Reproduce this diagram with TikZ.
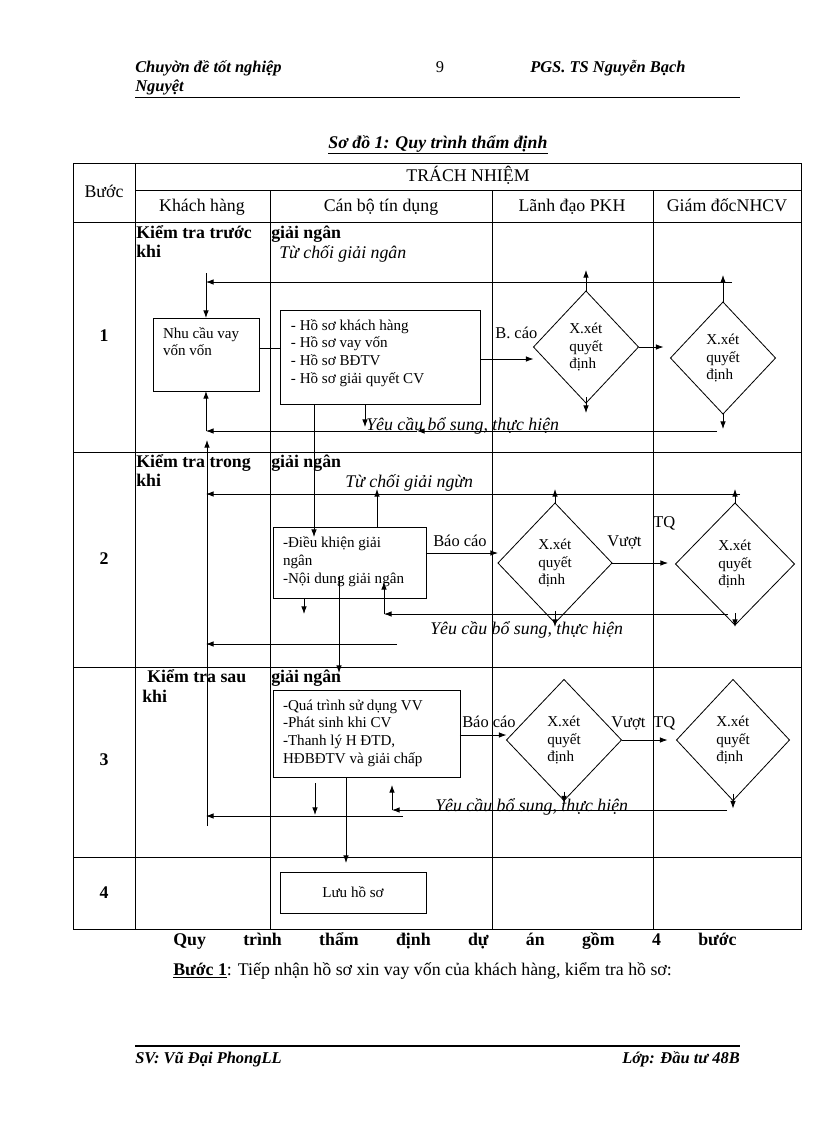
\documentclass[tikz,border=0pt]{standalone}
\usepackage{fontspec}
\setmainfont{Liberation Serif}
\usetikzlibrary{shapes.geometric,arrows.meta}

\newcommand\cellfont{\fontsize{13}{15}\selectfont}
\newcommand\boxfont{\fontsize{11}{13}\selectfont}
\newcommand\tagfont{\fontsize{12}{14}\selectfont}
\newcommand\pagefont{\fontsize{12}{14}\selectfont}
\newcommand\boxtext[3]{\parbox[c][#2][t]{#1}{#3}}

\tikzset{
  tableline/.style={line width=0.6pt},
  docbox/.style={draw,line width=0.6pt,rectangle,anchor=north west,inner xsep=7.3pt,inner ysep=5.5pt,outer sep=0pt,font=\boxfont},
  choice/.style={draw,line width=0.6pt,diamond,inner sep=0pt,outer sep=0pt,align=left,font=\boxfont},
  flow/.style={line width=0.6pt,-{Latex[length=5.5pt,width=4pt]}},
  link/.style={line width=0.6pt},
  head/.style={inner sep=0pt,anchor=base,font=\cellfont},
  stage/.style={inner sep=0pt,anchor=base west,font=\cellfont\bfseries},
  tag/.style={inner sep=0pt,anchor=base west,font=\tagfont},
  note/.style={inner sep=0pt,anchor=base west,font=\cellfont\itshape},
}

\begin{document}
\begin{tikzpicture}[x=0.7295pt,y=-0.7295pt]
  \useasboundingbox (0,0) rectangle (816,1123);

  % Page header
  \node[inner sep=0pt,anchor=base west,font=\pagefont\bfseries\itshape] (hdrleft) at (135,72) {Chuyờn đề tốt nghiệp};
  \node[inner sep=0pt,anchor=base west,font=\pagefont\bfseries\itshape] (hdrname) at (135,91) {Nguyệt};
  \node[inner sep=0pt,anchor=base,font=\pagefont] (pageno) at (440,72) {9};
  \node[inner sep=0pt,anchor=base west,font=\pagefont\bfseries\itshape] (hdrright) at (530,72) {PGS. TS Nguyễn Bạch};
  \draw[line width=0.6pt] (135,97) -- (740,97);

  % Title
  \node[inner sep=0pt,anchor=base,font=\cellfont\bfseries\itshape] (title) at (438,148) {\underline{Sơ đồ 1: Quy trình thẩm định}};

  % Table
  \draw[tableline] (73,163) rectangle (801,929);
  \draw[tableline] (135,163) -- (135,929);
  \draw[tableline] (135,190) -- (801,190);
  \foreach \y in {222,452,667,857}
    \draw[tableline] (73,\y) -- (801,\y);
  \foreach \x in {270,492,653}
    \draw[tableline] (\x,190) -- (\x,929);

  \node[head] (buoc) at (104,197) {Bước};
  \node[head] (trach) at (468,181) {TRÁCH NHIỆM};
  \node[head] (khach) at (202,211) {Khách hàng};
  \node[head] (canbo) at (381,211) {Cán bộ tín dụng};
  \node[head] (lanhdao) at (572,211) {Lãnh đạo PKH};
  \node[head] (giamdoc) at (727,211) {Giám đốcNHCV};

  \node[head,font=\cellfont\bfseries] (num1) at (104,341) {1};
  \node[head,font=\cellfont\bfseries] (num2) at (104,564) {2};
  \node[head,font=\cellfont\bfseries] (num3) at (104,765) {3};
  \node[head,font=\cellfont\bfseries] (num4) at (104,898) {4};

  % Row 1
  \node[stage] (kt1) at (136,238) {Kiểm tra trước};
  \node[stage] (kt1b) at (136,257) {khi};
  \node[stage] (gn1) at (271,238) {giải ngân};
  \node[note] (deny1) at (279,258) {Từ chối giải ngân};

  \node[docbox] (need1) at (153,318) {\boxtext{62.7pt}{42.3pt}{\strut Nhu cầu vay\\ vốn vốn}};
  \node[docbox,inner xsep=8pt] (docs1) at (280,310) {\boxtext{129.9pt}{57.6pt}{\strut - Hồ sơ khách hàng\\ - Hồ sơ vay vốn\\ - Hồ sơ BĐTV\\ - Hồ sơ giải quyết CV}};
  \node[choice,minimum width=76.6pt,minimum height=81.7pt] (lead1) at (586,347) {X.xét\\ quyết\\ định};
  \node[choice,minimum width=76.6pt,minimum height=81.7pt] (dir1) at (723,358) {X.xét\\ quyết\\ định};

  \coordinate (rej1) at (732,282);
  \coordinate (top1) at (207,273);
  \coordinate (join1) at (270,348);
  \coordinate (rep1) at (480,359);
  \coordinate (req1) at (717,431);
  \coordinate (mid1) at (417,431);
  \coordinate (drop1) at (365,427);
  \coordinate (pass1) at (314,537);

  \draw[flow] (rej1) -- (rej1 -| need1.north);
  \draw[flow] (top1 -| need1.north) -- (need1.north);
  \draw[link] (join1 -| need1.east) -- (join1 -| docs1.west);
  \draw[flow] (rep1 -| docs1.east) -- (rep1 -| lead1.west);
  \node[tag] (bcao1) at (495,338) {B. cáo};
  \draw[flow] (lead1.north) -- ++(0,-21);
  \draw[flow] (dir1.north) -- ++(0,-27);
  \draw[flow] (lead1.east) -- ++(25,0);
  \draw[flow] (lead1.south) ++(0,-6) -- ++(0,16);
  \draw[flow] (dir1.south) -- ++(0,15);
  \draw[flow] (req1) -- (mid1);
  \draw[flow] (mid1) -- (mid1 -| need1.south);
  \draw[flow] (mid1 -| need1.south) -- (need1.south);
  \draw[flow] (drop1 |- docs1.south) -- (drop1);
  \draw[flow] (pass1 |- docs1.south) -- (pass1);
  \node[note] (more1) at (366,430) {Yêu cầu bổ sung, thực hiện};

  % Row 2
  \node[stage] (kt2) at (136,467) {Kiểm tra trong};
  \node[stage] (kt2b) at (136,486) {khi};
  \node[stage] (gn2) at (271,467) {giải ngân};
  \node[note] (deny2) at (345,487) {Từ chối giải ngừn};

  \node[docbox,inner ysep=6pt] (docs2) at (273,527) {\boxtext{97pt}{39.8pt}{\strut -Điều khiện giải\\ ngân\\ \mbox{-Nội dung giải ngân}}};
  \node[choice,minimum width=83.2pt,minimum height=87.5pt] (lead2) at (555,563) {X.xét\\ quyết\\ định};
  \node[choice,minimum width=86.8pt,minimum height=89pt] (dir2) at (735,564) {X.xét\\ quyết\\ định};

  \coordinate (rej2) at (740,494);
  \coordinate (up2) at (377,489);
  \coordinate (rep2) at (426,553);
  \coordinate (req2) at (728,614);
  \coordinate (turn2) at (384,614);
  \coordinate (lift2) at (384,582);
  \coordinate (drop2) at (304,614);
  \coordinate (back2) at (397,644);
  \coordinate (pass2) at (339,577);
  \coordinate (pass2b) at (339,673);

  \draw[flow] (rej2) -- (rej2 -| need1.south);
  \draw[flow] (up2 |- docs2.north) -- (up2);
  \draw[flow] (rep2 -| docs2.east) -- (rep2 -| lead2.west);
  \node[tag] (bcao2) at (433,546) {Báo cáo};
  \draw[flow] (lead2.north) -- ++(0,-14);
  \draw[flow] (dir2.north) -- ++(0,-14);
  \draw[flow] (lead2.east) -- ++(56,0);
  \node[tag] (vuot2) at (607,546) {Vượt};
  \node[tag] (tq2) at (653,527) {TQ};
  \draw[flow] (lead2.south) ++(0,-12) -- ++(0,16);
  \draw[flow] (dir2.south) ++(0,-12) -- ++(0,14);
  \draw[flow] (req2) -- (turn2);
  \draw[flow] (turn2) -- (lift2);
  \draw[flow] (drop2 |- docs2.south) -- (drop2);
  \draw[flow] (back2) -- (back2 -| need1.south);
  \draw[flow] (pass2) -- (pass2b);
  \node[note] (more2) at (430,634) {Yêu cầu bổ sung, thực hiện};

  % Row 3
  \node[stage] (kt3) at (147,682) {Kiểm tra sau};
  \node[stage] (kt3b) at (142,702) {khi};
  \node[stage] (gn3) at (271,682) {giải ngân};

  \node[docbox] (docs3) at (273,690) {\boxtext{121.8pt}{52.5pt}{\strut -Quá trình sử dụng VV\\ -Phát sinh khi CV\\ -Thanh lý H ĐTD,\\ HĐBĐTV và giải chấp}};
  \node[choice,minimum width=83.9pt,minimum height=88.3pt] (lead3) at (564,740) {X.xét\\ quyết\\ định};
  \node[choice,minimum width=82.4pt,minimum height=88.3pt] (dir3) at (733,740) {X.xét\\ quyết\\ định};

  \coordinate (rep3) at (460,735);
  \coordinate (req3) at (727,810);
  \coordinate (turn3) at (392,810);
  \coordinate (lift3) at (392,785);
  \coordinate (drop3a) at (315,783);
  \coordinate (drop3) at (315,815);
  \coordinate (back3) at (403,816);
  \coordinate (base3) at (207,826);
  \coordinate (rise1) at (207,440);
  \coordinate (pass3) at (346,863);

  \draw[flow] (rep3 -| docs3.east) -- (rep3 -| lead3.west);
  \node[tag] (bcao3) at (462,727) {Báo cáo};
  \draw[flow] (lead3.east) -- ++(46,0);
  \node[tag] (vuot3) at (611,727) {Vượt};
  \node[tag] (tq3) at (653,727) {TQ};
  \draw[flow] (lead3.south) ++(0,-9) -- ++(0,12);
  \draw[flow] (dir3.south) ++(0,-7) -- ++(0,15);
  \draw[flow] (req3) -- (turn3);
  \draw[flow] (turn3) -- (lift3);
  \draw[flow] (drop3a) -- (drop3);
  \draw[flow] (back3) -- (back3 -| need1.south);
  \draw[flow] (base3) -- (rise1);
  \draw[flow] (pass3 |- docs3.south) -- (pass3);
  \node[note] (more3) at (435,811) {Yêu cầu bổ sung, thực hiện};

  % Row 4
  \node[draw,line width=0.6pt,anchor=north west,minimum width=106.5pt,minimum height=29.9pt,outer sep=0pt,font=\boxfont] (store4) at (280,872) {Lưu hồ sơ};

  % Text below
  \node[inner sep=0pt,anchor=base west,font=\cellfont\bfseries] (summary) at (173,945) {\makebox[411pt][s]{Quy trình thẩm định dự án gồm 4 bước}};
  \node[inner sep=0pt,anchor=base west,font=\cellfont] (step1) at (173,975) {\underline{\textbf{Bước 1}}: Tiếp nhận hồ sơ xin vay vốn của khách hàng, kiểm tra hồ sơ:};

  % Page footer
  \draw[line width=1.5pt] (135,1046) -- (740,1046);
  \node[inner sep=0pt,anchor=base west,font=\pagefont\bfseries\itshape] (student) at (135,1063) {SV: Vũ Đại PhongLL};
  \node[inner sep=0pt,anchor=base east,font=\pagefont\bfseries\itshape] (klass) at (740,1063) {Lớp: Đầu tư 48B};
\end{tikzpicture}
\end{document}
